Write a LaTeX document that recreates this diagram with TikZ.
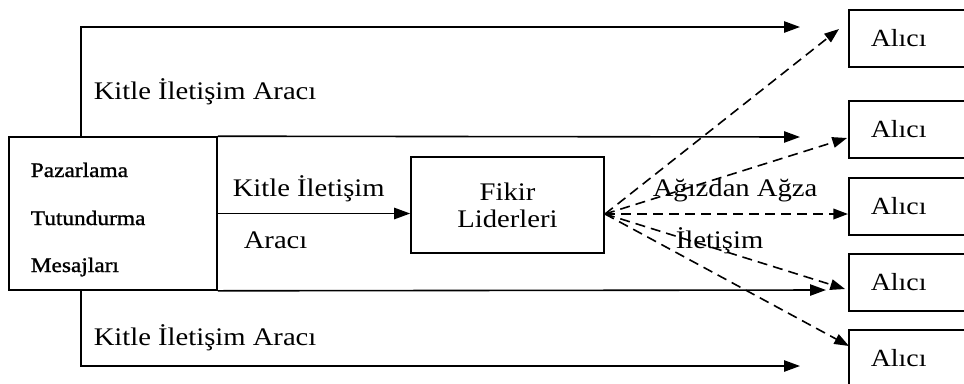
\documentclass[tikz,border=0pt]{standalone}
\usepackage{fontspec}
\setmainfont{Liberation Serif}[FakeStretch=1.13]
\newfontfamily\semibfont{Liberation Serif}[FakeStretch=1.13,FakeBold=1.2]
\usetikzlibrary{arrows.meta,calc}
\begin{document}
\begin{tikzpicture}[x=0.75pt,y=-0.75pt,
  line width=1.2pt,
  conn/.style={-{Triangle[length=12pt,width=8.5pt]}},
  dconn/.style={-{Triangle[length=11pt,width=8pt]},dash pattern=on 7.5pt off 4.5pt},
  srcbox/.style={draw,minimum width=156pt,minimum height=114.75pt,inner sep=0pt},
  fikirbox/.style={draw,minimum width=144.75pt,minimum height=72pt,inner sep=0pt,align=center,font=\fontsize{19}{20}\selectfont},
  alicibox/.style={draw,anchor=north west,minimum height=42.75pt,text width=118pt,inner xsep=16.5pt,inner ysep=0pt,align=left,font=\fontsize{18.5}{20}\selectfont},
  lbl/.style={anchor=base west,inner sep=0pt,font=\fontsize{19}{22}\selectfont},
  slbl/.style={anchor=base west,inner sep=0pt,font=\semibfont\fontsize{15.5}{18}\selectfont}
]
\useasboundingbox (0,0) rectangle (964,383);
\clip (0,0) rectangle (964,383);

% source box
\node[srcbox] (src) at (113,213.5) {};
\node[slbl] (p1) at (30,177) {Pazarlama};
\node[slbl] (p2) at (30,225) {Tutundurma};
\node[slbl] (p3) at (30,272) {Mesajları};

% opinion leaders
\node[fikirbox] (fikir) at (507.5,205) {Fikir\\Liderleri};

% receivers
\node[alicibox] (r1) at (848,9) {Alıcı};
\node[alicibox] (r2) at (848,100) {Alıcı};
\node[alicibox] (r3) at (848,177) {Alıcı};
\node[alicibox] (r4) at (848,253) {Alıcı};
\node[alicibox] (r5) at (848,329) {Alıcı};

% coordinates
\coordinate (a1) at (81,137);
\coordinate (t1) at (800,27);
\coordinate (t2) at (800,137);
\coordinate (t4) at (826,290);
\coordinate (a5) at (81,290);
\coordinate (t5) at (800,366);
\coordinate (o) at (605,214);
\coordinate (d1) at (839,29);
\coordinate (d2) at (847,138);
\coordinate (d4) at (845,289);
\coordinate (d5) at (849,346);

% solid connectors
\draw[conn] (a1) |- (t1);
\draw[conn] (src.north east) -- (t2);
\draw[conn] (src.east) -- (src.east -| fikir.west);
\draw[conn] (src.south east) -- (t4);
\draw[conn] (a5) |- (t5);

% dashed connectors
\draw[dconn] (o) -- (d1);
\draw[dconn] (o) -- (d2);
\draw[dconn] (o) -- (r3.west |- o);
\draw[dconn] (o) -- (d4);
\draw[dconn] (o) -- (d5);

% labels
\node[lbl] (l1) at (93,99) {Kitle İletişim Aracı};
\node[lbl] (l2) at (232,196) {Kitle İletişim};
\node[lbl] (l3) at (243,248) {Aracı};
\node[lbl] (l4) at (93,345) {Kitle İletişim Aracı};
\node[lbl] (l5) at (652,196) {Ağızdan Ağza};
\node[lbl] (l6) at (675,248) {İletişim};
\end{tikzpicture}
\end{document}
